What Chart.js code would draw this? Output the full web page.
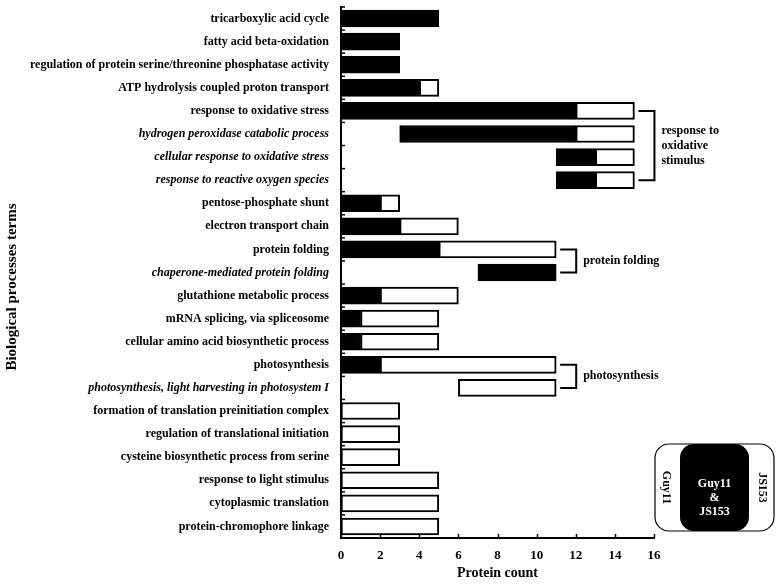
<!DOCTYPE html>
<html>
<head>
<meta charset="utf-8">
<script src="https://cdn.jsdelivr.net/npm/chart.js@4.4.1/dist/chart.umd.min.js"></script>
<style>
  html, body { margin: 0; padding: 0; background: #fff; }
  #wrap { width: 780px; height: 586px; }
</style>
</head>
<body>
<div id="wrap"><canvas id="chart" width="780" height="586"></canvas></div>
<script>
// GO terms, top to bottom
const categories = [
  "tricarboxylic acid cycle",
  "fatty acid beta-oxidation",
  "regulation of protein serine/threonine phosphatase activity",
  "ATP hydrolysis coupled proton transport",
  "response to oxidative stress",
  "hydrogen peroxidase catabolic process",
  "cellular response to oxidative stress",
  "response to reactive oxygen species",
  "pentose-phosphate shunt",
  "electron transport chain",
  "protein folding",
  "chaperone-mediated protein folding",
  "glutathione metabolic process",
  "mRNA splicing, via spliceosome",
  "cellular amino acid biosynthetic process",
  "photosynthesis",
  "photosynthesis, light harvesting in photosystem I",
  "formation of translation preinitiation complex",
  "regulation of translational initiation",
  "cysteine biosynthetic process from serine",
  "response to light stimulus",
  "cytoplasmic translation",
  "protein-chromophore linkage"
];
const italicRows = [5, 6, 7, 11, 16];

// black part: proteins shared by Guy11 & JS153
const sharedFrom = [0, 0, 0, 0, 0, 3, 11, 11, 0, 0, 0, 7, 0, 0, 0, 0, null, null, null, null, null, null, null];
const sharedTo   = [5, 3, 3, 4, 12, 12, 13, 13, 2, 3, 5, 11, 2, 1, 1, 2, null, null, null, null, null, null, null];
// white part: proteins found in one strain only
const singleFrom = [null, null, null, 4, 12, 12, 13, 13, 2, 3, 5, null, 2, 1, 1, 2, 6, 0, 0, 0, 0, 0, 0];
const singleTo   = [null, null, null, 5, 15, 15, 15, 15, 3, 6, 11, null, 6, 5, 5, 11, 11, 3, 3, 3, 5, 5, 5];

const xTicks = [0, 2, 4, 6, 8, 10, 12, 14, 16];

// bracket groups on the right
const groups = [
  { first: 4, last: 7, end: 15, label: ["response to", "oxidative", "stimulus"] },
  { first: 10, last: 11, end: 11, label: ["protein folding"] },
  { first: 15, last: 16, end: 11, label: ["photosynthesis"] }
];

const FONT = "'Liberation Serif', 'Times New Roman', serif";

const pairs = (from, to) => from.map((f, i) => (f === null ? null : [f, to[i]]));

const extras = {
  id: "extras",
  afterDraw(chart) {
    const ctx = chart.ctx;
    const x = chart.scales.x, y = chart.scales.y;
    const area = chart.chartArea;
    ctx.save();
    ctx.strokeStyle = "#000";
    ctx.lineWidth = 1.5;

    // inward ticks on x axis
    xTicks.forEach(v => {
      const px = Math.round(x.getPixelForValue(v)) + 0.5;
      ctx.beginPath();
      ctx.moveTo(px, area.bottom);
      ctx.lineTo(px, area.bottom - 4);
      ctx.stroke();
    });
    // inward ticks on y axis between categories
    for (let i = 0; i <= categories.length; i++) {
      const py = area.top + (area.bottom - area.top) * i / categories.length;
      ctx.beginPath();
      ctx.moveTo(area.left, py);
      ctx.lineTo(area.left + 4, py);
      ctx.stroke();
    }

    // y axis title, drawn by hand so it sits where the original has it
    ctx.fillStyle = "#000";
    ctx.font = "bold 15px " + FONT;
    ctx.textAlign = "center";
    ctx.textBaseline = "middle";
    ctx.save();
    ctx.translate(12, 287);
    ctx.rotate(-Math.PI / 2);
    ctx.fillText("Biological processes terms", 0, 0);
    ctx.restore();

    // brackets
    ctx.lineWidth = 2;
    ctx.font = "bold 12px " + FONT;
    ctx.textAlign = "left";
    groups.forEach(g => {
      const x0 = x.getPixelForValue(g.end) + 4;
      const x1 = x0 + 16;
      const y0 = y.getPixelForValue(g.first);
      const y1 = y.getPixelForValue(g.last);
      ctx.beginPath();
      ctx.moveTo(x0, y0);
      ctx.lineTo(x1, y0);
      ctx.lineTo(x1, y1);
      ctx.lineTo(x0, y1);
      ctx.stroke();
      const mid = (y0 + y1) / 2;
      const lh = 15;
      g.label.forEach((t, k) => {
        ctx.fillText(t, x1 + 7, mid + (k - (g.label.length - 1) / 2) * lh);
      });
    });

    // legend box
    const bx = 655, by = 444, bw = 119, bh = 87;
    ctx.lineWidth = 1.2;
    ctx.beginPath();
    ctx.roundRect(bx, by, bw, bh, 14);
    ctx.stroke();
    ctx.beginPath();
    ctx.roundRect(680, by, 69, bh, 14);
    ctx.fill();
    ctx.fillStyle = "#fff";
    ctx.textAlign = "center";
    ctx.font = "bold 12px " + FONT;
    ctx.fillText("Guy11", 714.5, 484);
    ctx.fillText("&", 714.5, 498);
    ctx.fillText("JS153", 714.5, 512);
    ctx.fillStyle = "#000";
    [[666, "Guy11"], [762, "JS153"]].forEach(([cx, t]) => {
      ctx.save();
      ctx.translate(cx, by + bh / 2);
      ctx.rotate(Math.PI / 2);
      ctx.fillText(t, 0, 0);
      ctx.restore();
    });
    ctx.restore();
  }
};

new Chart(document.getElementById("chart"), {
  type: "bar",
  data: {
    labels: categories,
    datasets: [
      {
        label: "Guy11 & JS153",
        data: pairs(sharedFrom, sharedTo),
        backgroundColor: "#000",
        borderColor: "#000",
        borderWidth: 2,
        borderSkipped: false
      },
      {
        label: "Guy11 or JS153",
        data: pairs(singleFrom, singleTo),
        backgroundColor: "#fff",
        borderColor: "#000",
        borderWidth: 2,
        borderSkipped: false
      }
    ]
  },
  options: {
    indexAxis: "y",
    responsive: false,
    animation: false,
    grouped: false,
    barThickness: 17,
    layout: { padding: { top: 7, right: 126, left: 0, bottom: 0 } },
    plugins: { legend: { display: false }, tooltip: { enabled: false } },
    scales: {
      x: {
        min: 0,
        max: 16,
        ticks: {
          stepSize: 2,
          padding: 10,
          color: "#000",
          font: { family: FONT, size: 13, weight: "bold" }
        },
        grid: { display: false, drawTicks: false },
        border: { color: "#000", width: 2 },
        title: {
          display: true,
          text: "Protein count",
          color: "#000",
          padding: { top: 0, bottom: 4 },
          font: { family: FONT, size: 14, weight: "bold" }
        },
        afterFit(s) { s.height = 48; }
      },
      y: {
        ticks: {
          padding: 12,
          color: "#000",
          autoSkip: false,
          font: ctx => ({
            family: FONT,
            size: 12,
            weight: "bold",
            style: italicRows.includes(ctx.index) ? "italic" : "normal"
          })
        },
        grid: { display: false, drawTicks: false },
        border: { color: "#000", width: 2 },
        afterFit(s) {
          s.width = 341;
          s.paddingTop = 0;
          s.paddingBottom = 0;
        }
      }
    }
  },
  plugins: [extras]
});
</script>
</body>
</html>
